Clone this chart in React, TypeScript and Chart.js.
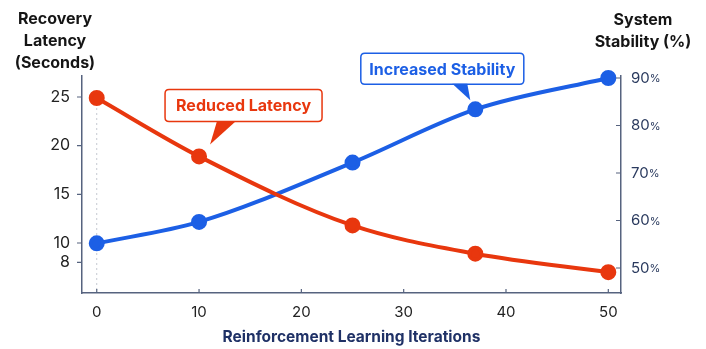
import React, { useEffect, useRef } from 'react';
import { Chart, registerables } from 'chart.js';

Chart.register(...registerables);

// ---- data ----
const iterations = [0, 10, 25, 37, 50];
const latencySeconds = [24.9, 18.9, 11.8, 8.9, 7.0];
const stabilityPct = [55.2, 59.7, 72.2, 83.4, 90.0];
const xTickValues = [0, 10, 20, 30, 40, 50];
const leftTickValues = [25, 20, 15, 10, 8];
const rightTickValues = [90, 80, 70, 60, 50];
const leftTitleLines = ['Recovery', 'Latency', '(Seconds)'];
const rightTitleLines = ['System', 'Stability (%)'];
const xTitle = 'Reinforcement Learning Iterations';
const latencyLabel = 'Reduced Latency';
const stabilityLabel = 'Increased Stability';

const RED = '#e8370e';
const BLUE = '#1c5fe5';
const AXIS = '#56637f';
const NAVY = '#1f3166';
const FONT = 'Inter, "Noto Sans", sans-serif';

const callouts = [
  { text: latencyLabel, ds: 0, idx: 1, color: RED, dx: 44.5, dy: -51, w: 157, h: 32, b0: 18, b1: 37, tx: 11, ty: -12 },
  { text: stabilityLabel, ds: 1, idx: 3, color: BLUE, dx: -33, dy: -40.5, w: 163, h: 31, b0: -23, b1: -8, tx: -5, ty: -9 },
];

function roundRect(ctx: CanvasRenderingContext2D, x: number, y: number, w: number, h: number, r: number) {
  ctx.beginPath();
  ctx.moveTo(x + r, y);
  ctx.lineTo(x + w - r, y);
  ctx.quadraticCurveTo(x + w, y, x + w, y + r);
  ctx.lineTo(x + w, y + h - r);
  ctx.quadraticCurveTo(x + w, y + h, x + w - r, y + h);
  ctx.lineTo(x + r, y + h);
  ctx.quadraticCurveTo(x, y + h, x, y + h - r);
  ctx.lineTo(x, y + r);
  ctx.quadraticCurveTo(x, y, x + r, y);
  ctx.closePath();
}

const decorPlugin = {
  id: 'decor',
  beforeDatasetsDraw(chart: any) {
    const { ctx, scales } = chart;
    const x = scales.x.getPixelForValue(iterations[0]);
    const y = scales.y.getPixelForValue(latencySeconds[0]);
    ctx.save();
    ctx.strokeStyle = '#c4c8d0';
    ctx.lineWidth = 1;
    ctx.setLineDash([2, 3]);
    ctx.beginPath();
    ctx.moveTo(x, y);
    ctx.lineTo(x, chart.chartArea.bottom);
    ctx.stroke();
    ctx.restore();
  },
  afterDraw(chart: any) {
    const { ctx, scales, chartArea } = chart;
    ctx.save();
    // tick marks
    ctx.strokeStyle = AXIS;
    ctx.lineWidth = 1.2;
    ctx.beginPath();
    for (const v of xTickValues) {
      const px = scales.x.getPixelForValue(v);
      ctx.moveTo(px, chartArea.bottom);
      ctx.lineTo(px, chartArea.bottom - 4);
    }
    for (const v of leftTickValues) {
      const py = scales.y.getPixelForValue(v);
      ctx.moveTo(chartArea.left, py);
      ctx.lineTo(chartArea.left - 5, py);
    }
    for (const v of rightTickValues) {
      const py = scales.y1.getPixelForValue(v);
      ctx.moveTo(chartArea.right, py);
      ctx.lineTo(chartArea.right - 5, py);
    }
    ctx.stroke();

    // right tick labels with small %
    ctx.textBaseline = 'middle';
    ctx.textAlign = 'left';
    for (const v of rightTickValues) {
      const py = scales.y1.getPixelForValue(v);
      ctx.font = '15px ' + FONT;
      ctx.fillStyle = '#2a3a5e';
      const s = String(v);
      ctx.fillText(s, chartArea.right + 10, py);
      const w = ctx.measureText(s).width;
      ctx.font = '11px ' + FONT;
      ctx.fillText('%', chartArea.right + 10 + w, py + 1);
    }

    // axis titles
    ctx.font = 'bold 16px ' + FONT;
    ctx.fillStyle = '#151515';
    ctx.textAlign = 'center';
    leftTitleLines.forEach((t, i) => ctx.fillText(t, 55, 19 + i * 22));
    rightTitleLines.forEach((t, i) => ctx.fillText(t, 643, 20 + i * 22));

    // callouts
    for (const c of callouts) {
      const el = chart.getDatasetMeta(c.ds).data[c.idx];
      const px = el.x;
      const py = el.y;
      const cx = px + c.dx;
      const cy = py + c.dy;
      const bx = cx - c.w / 2;
      const by = cy - c.h / 2;
      roundRect(ctx, bx, by, c.w, c.h, 4);
      ctx.fillStyle = '#ffffff';
      ctx.fill();
      ctx.strokeStyle = c.color;
      ctx.lineWidth = 1.5;
      ctx.stroke();
      ctx.beginPath();
      ctx.moveTo(px + c.b0, by + c.h - 0.5);
      ctx.lineTo(px + c.b1, by + c.h - 0.5);
      ctx.lineTo(px + c.tx, py + c.ty);
      ctx.closePath();
      ctx.fillStyle = c.color;
      ctx.fill();
      ctx.font = 'bold 16px ' + FONT;
      ctx.textAlign = 'center';
      ctx.textBaseline = 'middle';
      ctx.fillText(c.text, cx, cy + 1);
    }
    ctx.restore();
  },
};

export default function App() {
  const ref = useRef<HTMLCanvasElement | null>(null);
  useEffect(() => {
    if (!ref.current) return;
    const chart = new Chart(ref.current, {
      type: 'line',
      data: {
        datasets: [
          {
            label: latencyLabel,
            data: iterations.map((x, i) => ({ x, y: latencySeconds[i] })),
            yAxisID: 'y',
            borderColor: RED,
            backgroundColor: RED,
            borderWidth: 4,
            pointRadius: 6,
            pointHoverRadius: 6,
            cubicInterpolationMode: 'monotone',
            clip: false as any,
          },
          {
            label: stabilityLabel,
            data: iterations.map((x, i) => ({ x, y: stabilityPct[i] })),
            yAxisID: 'y1',
            borderColor: BLUE,
            backgroundColor: BLUE,
            borderWidth: 4,
            pointRadius: 6,
            pointHoverRadius: 6,
            cubicInterpolationMode: 'monotone',
            clip: false as any,
          },
        ],
      },
      options: {
        animation: false,
        responsive: false,
        devicePixelRatio: 1,
        layout: { padding: { top: 76, left: 0, right: 0, bottom: 0 } },
        plugins: { legend: { display: false }, tooltip: { enabled: false } },
        scales: {
          x: {
            type: 'linear',
            min: -1.44,
            max: 51.24,
            afterBuildTicks: (s: any) => { s.ticks = xTickValues.map((v) => ({ value: v })); },
            afterFit: (s: any) => { s.height = 56; },
            grid: { display: true, drawOnChartArea: false, drawTicks: false },
            border: { display: true, color: AXIS, width: 1.5 },
            ticks: { font: { family: FONT, size: 15 }, color: '#222', padding: 10, maxRotation: 0 },
            title: {
              display: true,
              text: xTitle,
              color: NAVY,
              font: { family: FONT, size: 15.5, weight: 'bold' },
              padding: { top: 0, bottom: 2 },
            },
          },
          y: {
            type: 'linear',
            position: 'left',
            min: 4.86,
            max: 27.16,
            afterBuildTicks: (s: any) => { s.ticks = leftTickValues.map((v) => ({ value: v })); },
            afterFit: (s: any) => { s.width = 82; },
            grid: { display: true, drawOnChartArea: false, drawTicks: false },
            border: { display: true, color: AXIS, width: 1.5 },
            ticks: { font: { family: FONT, size: 16 }, color: '#222', padding: 12 },
          },
          y1: {
            type: 'linear',
            position: 'right',
            min: 44.74,
            max: 90.42,
            afterBuildTicks: (s: any) => { s.ticks = rightTickValues.map((v) => ({ value: v })); },
            afterFit: (s: any) => { s.width = 85; },
            grid: { display: true, drawOnChartArea: false, drawTicks: false },
            border: { display: true, color: AXIS, width: 1.5 },
            ticks: { display: false },
          },
        },
      },
      plugins: [decorPlugin],
    });
    return () => chart.destroy();
  }, []);
  return (
    <div style={{ position: 'fixed', left: 0, top: 0, width: 706, height: 349, background: '#fff' }}>
      <canvas ref={ref} width={706} height={349} style={{ display: 'block', width: 706, height: 349 }} />
    </div>
  );
}
